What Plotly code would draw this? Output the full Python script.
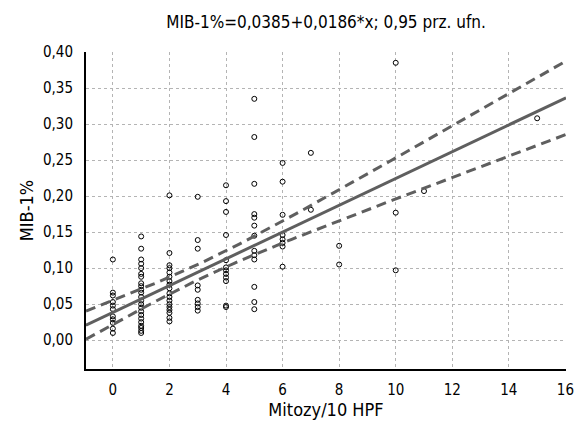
import numpy as np
import plotly.graph_objs as go

# Points, grouped by x (mitoses / 10 HPF)
mib_x0 = [0.112, 0.066, 0.062, 0.053, 0.048, 0.043, 0.033, 0.029, 0.024, 0.016, 0.010]
mib_x1 = [0.144, 0.127, 0.112, 0.106, 0.100, 0.092, 0.088, 0.079, 0.075, 0.070, 0.066, 0.060,
          0.055, 0.050, 0.045, 0.040, 0.035, 0.030, 0.025, 0.020, 0.017, 0.013, 0.010]
mib_x2 = [0.201, 0.121, 0.104, 0.100, 0.094, 0.088, 0.082, 0.077, 0.072, 0.065, 0.060, 0.055,
          0.050, 0.046, 0.042, 0.038, 0.031, 0.026]
mib_x3 = [0.199, 0.139, 0.127, 0.076, 0.070, 0.056, 0.051, 0.046, 0.041]
mib_x4 = [0.215, 0.193, 0.178, 0.146, 0.111, 0.101, 0.097, 0.092, 0.087, 0.082, 0.048, 0.046]
mib_x5 = [0.335, 0.282, 0.217, 0.175, 0.170, 0.159, 0.145, 0.124, 0.118, 0.112, 0.074, 0.053, 0.043]
mib_x6 = [0.246, 0.220, 0.174, 0.146, 0.140, 0.135, 0.130, 0.102]
mib_x7 = [0.260, 0.181]
mib_x8 = [0.131, 0.105]
mib_x10 = [0.385, 0.177, 0.097]
mib_x11 = [0.207]
mib_x15 = [0.308]

groups = {0: mib_x0, 1: mib_x1, 2: mib_x2, 3: mib_x3, 4: mib_x4, 5: mib_x5,
          6: mib_x6, 7: mib_x7, 8: mib_x8, 10: mib_x10, 11: mib_x11, 15: mib_x15}

x_ticks = [0, 2, 4, 6, 8, 10, 12, 14, 16]
y_ticks = [0.0, 0.05, 0.10, 0.15, 0.20, 0.25, 0.30, 0.35, 0.40]

# regression from the chart title
intercept = 0.0385
slope = 0.0186
t_crit = 1.984  # 0.95, ~100 df

x = np.concatenate([[k] * len(v) for k, v in groups.items()]).astype(float)
y = np.concatenate([v for v in groups.values()])

# confidence band for the mean
n = len(x)
resid = y - (intercept + slope * x)
s = np.sqrt(np.sum(resid ** 2) / (n - 2))
x_mean = x.mean()
sxx = np.sum((x - x_mean) ** 2)

x_lo, x_hi = -0.95, 16.02
xf = np.linspace(x_lo, x_hi, 120)
yf = intercept + slope * xf
half = t_crit * s * np.sqrt(1 / n + (xf - x_mean) ** 2 / sxx)

font_family = "DejaVu Sans Condensed, Liberation Sans Narrow, sans-serif"
line_col = "#5f5f5f"

fig = go.Figure()
fig.add_trace(go.Scatter(x=x, y=y, mode='markers',
                         marker=dict(symbol='circle-open', size=5, color='black',
                                     line=dict(width=1, color='black'))))
fig.add_trace(go.Scatter(x=xf, y=yf, mode='lines', line=dict(color=line_col, width=3)))
fig.add_trace(go.Scatter(x=xf, y=yf + half, mode='lines',
                         line=dict(color=line_col, width=3, dash='10px,6px')))
fig.add_trace(go.Scatter(x=xf, y=yf - half, mode='lines',
                         line=dict(color=line_col, width=3, dash='10px,6px')))

fig.update_layout(
    width=574, height=427,
    margin=dict(l=86, r=8, t=52, b=58, autoexpand=False),
    paper_bgcolor='white', plot_bgcolor='white',
    showlegend=False,
    separators=', ',
    font=dict(family=font_family, size=15, color='black'),
    title=dict(text='MIB-1%=0,0385+0,0186*x; 0,95 prz. ufn.', x=0.568, xanchor='center',
               y=0.948, yanchor='middle', font=dict(size=17)),
)
fig.update_xaxes(range=[x_lo, x_hi], tickvals=x_ticks, ticks='', showline=True,
                 linecolor='black', linewidth=2, showgrid=True, gridcolor='#b4b4b4',
                 griddash='dot', gridwidth=1, zeroline=False, ticklabelstandoff=6,
                 ticklabeloverflow='allow', automargin=False,
                 title=dict(text='Mitozy/10 HPF', standoff=4))
fig.update_yaxes(range=[-0.04, 0.40], tickvals=y_ticks, tickformat='.2f', ticks='',
                 showline=True, linecolor='black', linewidth=2, showgrid=True,
                 gridcolor='#b4b4b4', griddash='dot', gridwidth=1, zeroline=False,
                 automargin=False, ticklabelstandoff=8, title=dict(text='MIB-1%', standoff=5))

# drop the default page margin so the figure fills the window
fig.write_html("out.html", config={'displayModeBar': False},
               post_script="document.body.style.margin='0';")
